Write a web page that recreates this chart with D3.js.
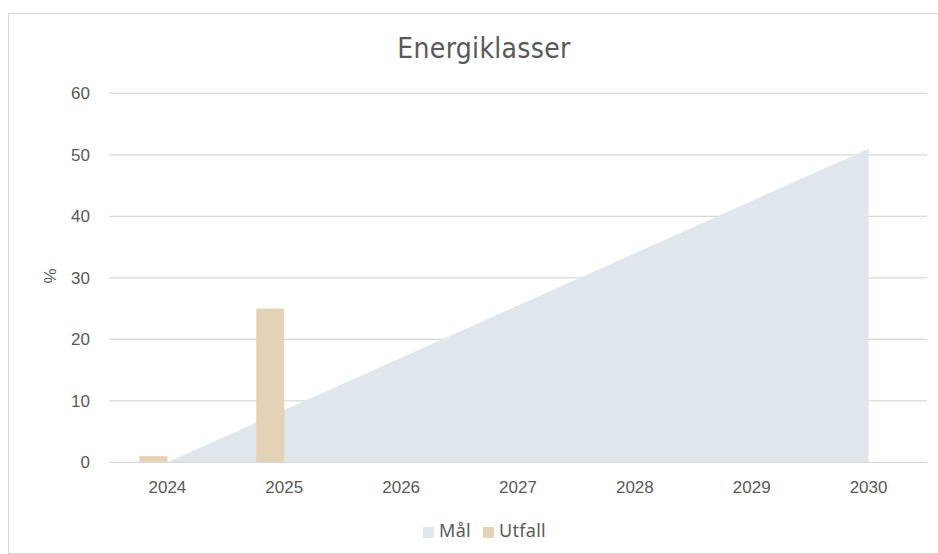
<!DOCTYPE html>
<html>
<head>
<meta charset="utf-8">
<script src="https://cdn.jsdelivr.net/npm/d3@7"></script>
<style>
  body { margin: 0; background: #fff; }
</style>
</head>
<body>
<div id="chart"></div>
<script>
// data
var years = ["2024", "2025", "2026", "2027", "2028", "2029", "2030"];
var maal = [0, 8.5, 17, 25.5, 34, 42.5, 51];      // area series "Mål"
var utfall = [1, 25, null, null, null, null, null]; // bar series "Utfall"
var yTicks = [0, 10, 20, 30, 40, 50, 60];

var W = 938, H = 554;
var plot = {left: 109, right: 927, top: 93.3, bottom: 462.3};
var axisFont = "'Liberation Sans', Arial, sans-serif";

var svg = d3.select("#chart").append("svg")
    .attr("width", W).attr("height", H);

// outer chart border
svg.append("rect")
    .attr("x", 8.5).attr("y", 13.5)
    .attr("width", W + 10).attr("height", 540)
    .attr("fill", "#fff")
    .attr("stroke", "#d9d9d9").attr("stroke-width", 1);

// title
svg.append("text")
    .attr("x", 484).attr("y", 58)
    .attr("text-anchor", "middle")
    .attr("font-family", "'DejaVu Sans Condensed', 'Liberation Sans Narrow', sans-serif")
    .attr("font-size", "28px")
    .attr("letter-spacing", "0.3px")
    .attr("fill", "#595959")
    .text("Energiklasser");

var x = d3.scaleBand().domain(years).range([plot.left, plot.right]).padding(0);
var y = d3.scaleLinear().domain([0, 60]).range([plot.bottom, plot.top]);

// gridlines
svg.append("g").selectAll("line")
    .data(yTicks.filter(function(d) { return d > 0; }))
    .enter().append("line")
    .attr("x1", plot.left).attr("x2", plot.right)
    .attr("y1", function(d) { return y(d); })
    .attr("y2", function(d) { return y(d); })
    .attr("stroke", "#d9d9d9").attr("stroke-width", 1.3);

// y tick labels
svg.append("g").selectAll("text")
    .data(yTicks)
    .enter().append("text")
    .attr("x", 90)
    .attr("y", function(d) { return y(d) + 6; })
    .attr("text-anchor", "end")
    .attr("font-family", axisFont)
    .attr("font-size", "17px")
    .attr("fill", "#595959")
    .text(function(d) { return d; });

// y axis title
svg.append("text")
    .attr("transform", "translate(56, 276) rotate(-90)")
    .attr("text-anchor", "middle")
    .attr("font-family", axisFont)
    .attr("font-size", "17px")
    .attr("fill", "#595959")
    .text("%");

// area "Mål"
var area = d3.area()
    .x(function(d, i) { return x(years[i]) + x.bandwidth() / 2; })
    .y0(y(0))
    .y1(function(d) { return y(d); });
svg.append("path")
    .datum(maal)
    .attr("d", area)
    .attr("fill", "#dfe7ec");

// bars "Utfall" (first slot of a two-slot cluster)
var barW = 28;
svg.append("g").selectAll("rect")
    .data(utfall.map(function(v, i) { return {year: years[i], v: v}; })
                .filter(function(d) { return d.v !== null; }))
    .enter().append("rect")
    .attr("x", function(d) { return x(d.year) + x.bandwidth() / 2 - barW; })
    .attr("width", barW)
    .attr("y", function(d) { return y(d.v); })
    .attr("height", function(d) { return y(0) - y(d.v); })
    .attr("fill", "#e3d2b5");

// x axis line
svg.append("line")
    .attr("x1", plot.left).attr("x2", plot.right)
    .attr("y1", y(0)).attr("y2", y(0))
    .attr("stroke", "#d9d9d9").attr("stroke-width", 1.3);

// x tick labels
svg.append("g").selectAll("text")
    .data(years)
    .enter().append("text")
    .attr("x", function(d) { return x(d) + x.bandwidth() / 2; })
    .attr("y", 493)
    .attr("text-anchor", "middle")
    .attr("font-family", axisFont)
    .attr("font-size", "17px")
    .attr("fill", "#595959")
    .text(function(d) { return d; });

// legend
var legend = [
  {name: "Mål", color: "#dfe7ec", x: 423},
  {name: "Utfall", color: "#e3d2b5", x: 483}
];
var lg = svg.append("g").selectAll("g").data(legend).enter().append("g");
lg.append("rect")
    .attr("x", function(d) { return d.x; }).attr("y", 527)
    .attr("width", 11).attr("height", 11)
    .attr("fill", function(d) { return d.color; });
lg.append("text")
    .attr("x", function(d) { return d.x + 16; }).attr("y", 537)
    .attr("font-family", "'Noto Sans', sans-serif")
    .attr("font-size", "18px")
    .attr("letter-spacing", "0.3px")
    .attr("fill", "#595959")
    .text(function(d) { return d.name; });
</script>
</body>
</html>
